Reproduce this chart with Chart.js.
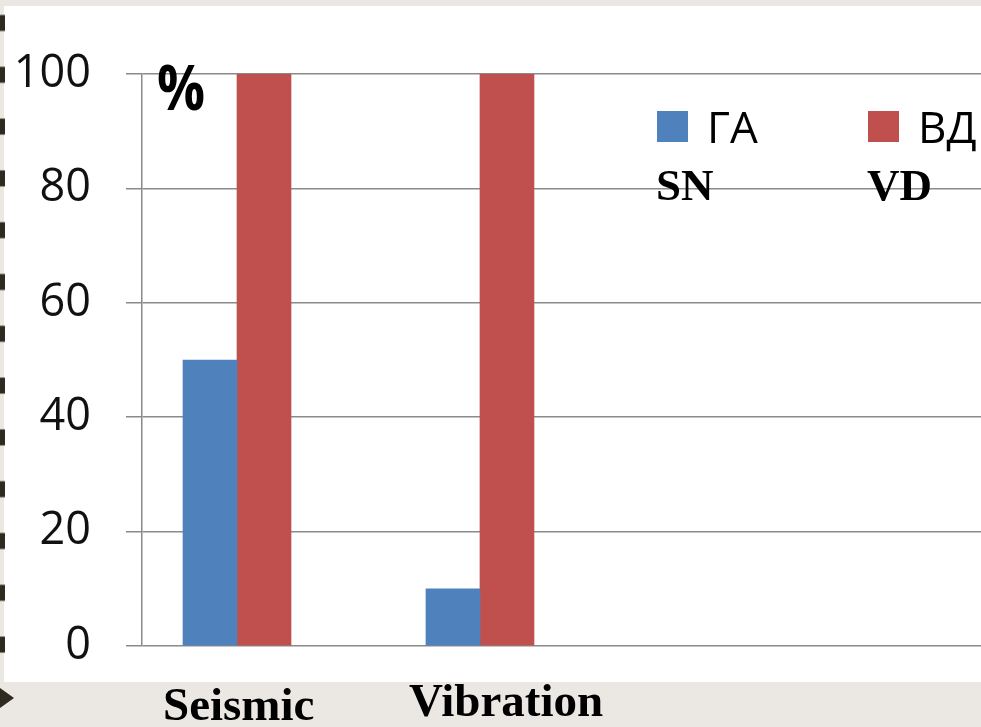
<!DOCTYPE html>
<html>
<head>
<meta charset="utf-8">
<script src="https://cdn.jsdelivr.net/npm/chart.js@4.4.1/dist/chart.umd.min.js"></script>
<style>
  body { margin:0; width:981px; height:727px; overflow:hidden; background:#ebe7e3; position:relative; }
  #paper { position:absolute; left:4px; top:6px; width:977px; height:676px; background:#fff; }
  #rings { position:absolute; left:0; top:0; width:5px; height:682px;
    background: repeating-linear-gradient(to bottom, transparent 0 14px, #2e2a20 16px 30px, transparent 32px 51.8px); }
  #arrow { position:absolute; left:0; top:688px; width:0; height:0;
    border-top:10px solid transparent; border-bottom:10px solid transparent; border-left:14px solid #2e2a20; }
  #chart { position:absolute; left:0; top:0; }
</style>
</head>
<body>
<div id="paper"></div>
<div id="rings"></div>
<div id="arrow"></div>
<canvas id="chart" width="981" height="727"></canvas>
<script>
const categories = ['Seismic', 'Vibration']
const seriesNames = ['ГА', 'ВД']
const seriesNotes = ['SN', 'VD']
const gaValues = [50, 10]
const vdValues = [100, 100]
const yTicks = [0, 20, 40, 60, 80, 100]

const blue = '#4f81bd'
const red = '#c0504d'

// legend, notes and category names drawn on top of the plot
const decor = {
  id: 'decor',
  afterDraw(chart) {
    const ctx = chart.ctx
    ctx.save()
    ctx.textBaseline = 'alphabetic'
    const legendX = [657, 868]
    chart.data.datasets.forEach((ds, i) => {
      ctx.fillStyle = ds.backgroundColor
      ctx.fillRect(legendX[i], 111, 31, 31)
      ctx.fillStyle = '#000'
      ctx.font = '44px "Open Sans"'
      ctx.fillText(ds.label, legendX[i] + 50, 143)
      ctx.font = 'bold 45px "Liberation Serif"'
      ctx.fillText(seriesNotes[i], legendX[i] - 1, 200)
    })
    ctx.font = 'bold 47px "Liberation Serif"'
    ctx.fillText(categories[0], 163, 720)
    ctx.fillText(categories[1], 409, 716)
    // the % mark, a bit narrow like the original
    ctx.translate(157, 110)
    ctx.scale(0.86, 1)
    ctx.font = 'bold 62px "Open Sans"'
    ctx.fillText('%', 0, 0)
    ctx.restore()
  }
}

const config = {
  type: 'bar',
  data: {
    datasets: [
      {
        label: seriesNames[0],
        data: categories.map((c, i) => ({x: i + 1, y: gaValues[i]})),
        backgroundColor: blue,
        barThickness: 54
      },
      {
        label: seriesNames[1],
        data: categories.map((c, i) => ({x: i + 1, y: vdValues[i]})),
        backgroundColor: red,
        barThickness: 54
      }
    ]
  },
  options: {
    responsive: false,
    animation: false,
    layout: { padding: { left: 0, right: 0, top: 74, bottom: 81 } },
    plugins: {
      legend: { display: false },
      tooltip: { enabled: false }
    },
    scales: {
      x: {
        type: 'linear',
        display: false,
        offset: false,
        grid: { offset: false },
        min: 0.609,
        max: 4.062
      },
      y: {
        min: 0,
        max: 100,
        afterFit: s => { s.width = 142 },
        afterBuildTicks: s => { s.ticks = yTicks.map(v => ({value: v})) },
        border: { display: true, color: '#8a8a8a', width: 1.5 },
        grid: { color: '#8a8a8a', lineWidth: 1.5, tickLength: 16 },
        ticks: {
          padding: 35,
          color: '#111',
          font: { family: 'Open Sans', size: 45 }
        }
      }
    }
  },
  plugins: [decor]
}

const myChart = new Chart(document.getElementById('chart'), config)
</script>
</body>
</html>
